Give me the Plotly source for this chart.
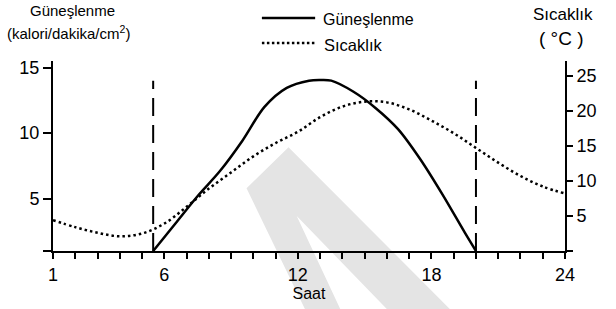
import plotly.graph_objects as go

# ---- data ----
sun_hours = [5.5, 6.5, 7.5, 8.5, 9.5, 10.5, 11.5, 12.5, 13.0, 13.5, 14.5, 15.5, 16.5, 17.5, 18.5, 19.5, 20.0]
sun_values = [1.0, 3.1, 5.2, 7.1, 9.4, 12.0, 13.45, 14.0, 14.05, 14.0, 13.15, 11.9, 10.3, 8.0, 5.3, 2.4, 1.0]

temp_hours = [1, 2, 3, 4, 5, 6, 7, 8, 9, 10, 11, 12, 13, 14, 15, 16, 17, 18, 19, 20, 21, 22, 23, 24]
temp_values = [4.4, 3.4, 2.6, 2.1, 2.5, 3.9, 6.3, 8.9, 11.2, 13.5, 15.4, 17.0, 19.1, 20.6, 21.3, 21.2, 20.2, 18.6, 16.8, 14.7, 12.6, 10.7, 9.2, 8.2]

sunrise = 5.5
sunset = 20.0
marker_top = 14.0

x_tickvals = list(range(1, 25))
x_labels = {1: "1", 6: "6", 12: "12", 18: "18", 24: "24"}
x_ticktext = [x_labels.get(v, "") for v in x_tickvals]
left_tickvals = [1, 5, 10, 15]
left_ticktext = ["", "5", "10", "15"]
right_tickvals = [0, 5, 10, 15, 20, 25]
right_ticktext = ["", "5", "10", "15", "20", "25"]

FONT = "Liberation Sans, Arial, sans-serif"

fig = go.Figure()

# watermark (decorative)
wm = [(0.378, 0.330), (0.460, 0.546), (0.775, -0.305), (0.652, -0.305),
      (0.476, 0.184), (0.561, -0.305), (0.492, -0.305)]
path = "M " + " L ".join(f"{x},{y}" for x, y in wm) + " Z"
fig.add_shape(type="path", path=path, xref="paper", yref="paper",
              fillcolor="#e4e4e4", line=dict(width=0), layer="below")

for h in (sunrise, sunset):
    fig.add_trace(go.Scatter(x=[h, h], y=[1, marker_top], mode="lines",
                             line=dict(color="black", width=2, dash="18px,9px"),
                             showlegend=False, hoverinfo="skip"))

fig.add_trace(go.Scatter(x=sun_hours, y=sun_values, mode="lines",
                         line=dict(color="black", width=2.5, shape="spline", smoothing=0.9),
                         name="Güneşlenme", showlegend=False))
fig.add_trace(go.Scatter(x=temp_hours, y=temp_values, mode="lines", yaxis="y2",
                         line=dict(color="black", width=2.5, shape="spline", smoothing=1.0,
                                   dash="2.5px,3px"),
                         name="Sıcaklık", showlegend=False))

# manual legend
fig.add_shape(type="line", xref="paper", yref="paper", x0=0.408, x1=0.512, y0=1.226, y1=1.226,
              line=dict(color="black", width=2.5))
fig.add_shape(type="line", xref="paper", yref="paper", x0=0.408, x1=0.512, y0=1.095, y1=1.095,
              line=dict(color="black", width=2.5, dash="2.5px,2.5px"))

def ann(text, x, y, size, xanchor="center"):
    fig.add_annotation(text=text, x=x, y=y, xref="paper", yref="paper", showarrow=False,
                       xanchor=xanchor, yanchor="middle", font=dict(size=size, color="black", family=FONT))

ann("Güneşlenme", 0.523, 1.221, 16, "left")
ann("Sıcaklık", 0.525, 1.084, 16.5, "left")
ann("Güneşlenme", 0.039, 1.268, 15)
ann("(kalori/dakika/cm<sup>2</sup>)", 0.031, 1.150, 15)
ann("Sıcaklık", 0.996, 1.247, 17)
ann("( °C )", 0.994, 1.121, 19)

axis_common = dict(showline=True, linecolor="black", linewidth=2, ticks="outside",
                   tickcolor="black", tickwidth=2, showgrid=False, zeroline=False,
                   tickfont=dict(size=18, color="black", family=FONT))

fig.update_layout(
    width=616, height=309,
    margin=dict(l=53, r=51, t=61, b=58),
    paper_bgcolor="white", plot_bgcolor="rgba(0,0,0,0)",
    font=dict(family=FONT, color="black"),
    hovermode=False,
    xaxis=dict(range=[1, 24], tickvals=x_tickvals, ticktext=x_ticktext, ticklen=6,
               title=dict(text="Saat", font=dict(size=16, family=FONT, color="black"), standoff=0),
               **axis_common),
    yaxis=dict(range=[1, 15.5], tickvals=left_tickvals, ticktext=left_ticktext, ticklen=8,
               **axis_common),
    yaxis2=dict(range=[0, 27.1], tickvals=right_tickvals, ticktext=right_ticktext, ticklen=6,
                overlaying="y", side="right", **axis_common),
)

# remove the default page margin so the figure sits at the window's top-left corner
fig.write_html("out.html", config={"displayModeBar": False},
               post_script="document.body.style.margin='0';")
